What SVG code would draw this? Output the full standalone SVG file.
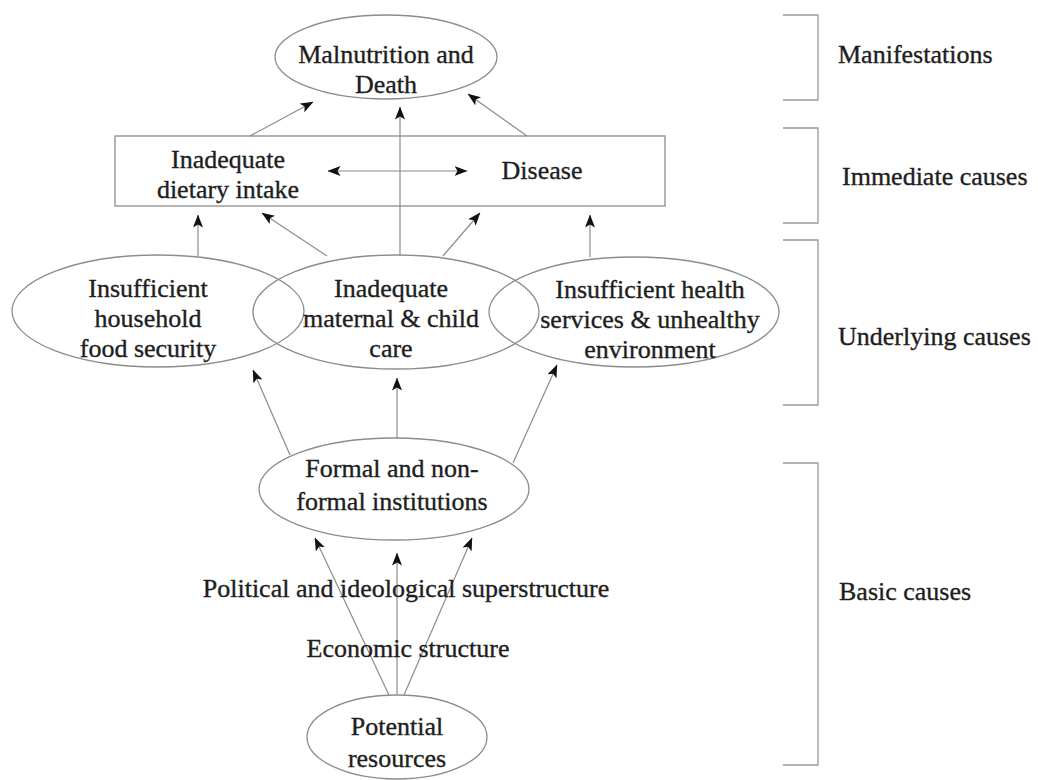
<svg xmlns="http://www.w3.org/2000/svg" width="1038" height="780" viewBox="0 0 1038 780">
  <defs>
    <style>
      .lbl { font-family: "Liberation Serif", "Times New Roman", serif; font-size: 26px; fill: #1e1e1e; stroke: #1e1e1e; stroke-width: 0.35; text-anchor: middle; }
      .side { font-family: "Liberation Serif", "Times New Roman", serif; font-size: 26px; fill: #1e1e1e; stroke: #1e1e1e; stroke-width: 0.35; text-anchor: start; }
      .shape { fill: none; stroke: #8c8c8c; stroke-width: 1.3; }
      .edge { fill: none; stroke: #8c8c8c; stroke-width: 1.2; }
      .arrow { marker-end: url(#head); }
      .bracket { fill: none; stroke: #9a9a9a; stroke-width: 1.3; }
    </style>
    <marker id="head" viewBox="0 0 13 10" refX="12.5" refY="5" markerWidth="13" markerHeight="10" markerUnits="userSpaceOnUse" orient="auto-start-reverse">
      <path d="M0,0 L13,5 L0,10 L3,5 Z" fill="#111"/>
    </marker>
  </defs>

  <rect width="1038" height="780" fill="#ffffff"/>

  <!-- connectors -->
  <g id="connectors">
    <!-- immediate causes to manifestations -->
    <line class="edge arrow" x1="250" y1="136" x2="313" y2="102"/>
    <line class="edge arrow" x1="400" y1="255" x2="400" y2="107"/>
    <line class="edge arrow" x1="527" y1="136" x2="468" y2="94"/>
    <!-- interaction between intake and disease -->
    <line class="edge" x1="328" y1="171" x2="467" y2="171" marker-start="url(#head)" marker-end="url(#head)"/>
    <!-- underlying causes to immediate causes -->
    <line class="edge arrow" x1="198" y1="256" x2="198" y2="215"/>
    <line class="edge arrow" x1="327" y1="256" x2="262" y2="213"/>
    <line class="edge arrow" x1="443" y1="256" x2="480" y2="213"/>
    <line class="edge arrow" x1="590" y1="257" x2="590" y2="215"/>
    <!-- institutions to underlying causes -->
    <line class="edge arrow" x1="290" y1="455" x2="253" y2="370"/>
    <line class="edge arrow" x1="397" y1="438" x2="397" y2="378"/>
    <line class="edge arrow" x1="513" y1="463" x2="557" y2="365"/>
    <!-- resources to institutions -->
    <line class="edge arrow" x1="389" y1="695" x2="315" y2="538"/>
    <line class="edge arrow" x1="397" y1="695" x2="397" y2="553"/>
    <line class="edge arrow" x1="404" y1="695" x2="472" y2="538"/>
  </g>

  <!-- manifestations -->
  <g id="malnutrition">
    <ellipse class="shape" cx="386" cy="57" rx="111" ry="42"/>
    <text class="lbl" x="386" y="63">Malnutrition and</text>
    <text class="lbl" x="386" y="93">Death</text>
  </g>

  <!-- immediate causes -->
  <g id="immediate">
    <rect class="shape" x="115" y="136" width="550" height="70"/>
  </g>
  <g id="dietary-intake">
    <text class="lbl" x="228" y="168">Inadequate</text>
    <text class="lbl" x="228" y="198">dietary intake</text>
  </g>
  <g id="disease">
    <text class="lbl" x="542" y="179">Disease</text>
  </g>

  <!-- underlying causes -->
  <g id="food-security">
    <ellipse class="shape" cx="158" cy="311" rx="146" ry="56"/>
    <text class="lbl" x="148" y="297">Insufficient</text>
    <text class="lbl" x="148" y="327">household</text>
    <text class="lbl" x="148" y="357">food security</text>
  </g>
  <g id="care">
    <ellipse class="shape" cx="396" cy="312" rx="143" ry="57"/>
    <text class="lbl" x="391" y="297">Inadequate</text>
    <text class="lbl" x="391" y="327">maternal &amp; child</text>
    <text class="lbl" x="391" y="357">care</text>
  </g>
  <g id="health">
    <ellipse class="shape" cx="634" cy="312" rx="145" ry="55"/>
    <text class="lbl" x="650" y="298">Insufficient health</text>
    <text class="lbl" x="650" y="328">services &amp; unhealthy</text>
    <text class="lbl" x="650" y="358">environment</text>
  </g>

  <!-- basic causes -->
  <g id="institutions">
    <ellipse class="shape" cx="394" cy="489" rx="135" ry="51"/>
    <text class="lbl" x="392" y="477">Formal and non-</text>
    <text class="lbl" x="392" y="510">formal institutions</text>
  </g>
  <g id="superstructure">
    <text class="lbl" x="406" y="597">Political and ideological superstructure</text>
  </g>
  <g id="economic">
    <text class="lbl" x="408" y="657">Economic structure</text>
  </g>
  <g id="resources">
    <ellipse class="shape" cx="397" cy="737" rx="90" ry="42"/>
    <text class="lbl" x="397" y="735">Potential</text>
    <text class="lbl" x="397" y="767">resources</text>
  </g>

  <!-- level brackets -->
  <g id="level-manifestations">
    <polyline class="bracket" points="783,15 818,15 818,100 783,100"/>
    <text class="side" x="838" y="63">Manifestations</text>
  </g>
  <g id="level-immediate">
    <polyline class="bracket" points="783,128 818,128 818,223 783,223"/>
    <text class="side" x="842" y="185">Immediate causes</text>
  </g>
  <g id="level-underlying">
    <polyline class="bracket" points="783,240 818,240 818,405 783,405"/>
    <text class="side" x="838" y="345">Underlying causes</text>
  </g>
  <g id="level-basic">
    <polyline class="bracket" points="783,463 818,463 818,765 783,765"/>
    <text class="side" x="839" y="600">Basic causes</text>
  </g>
</svg>
